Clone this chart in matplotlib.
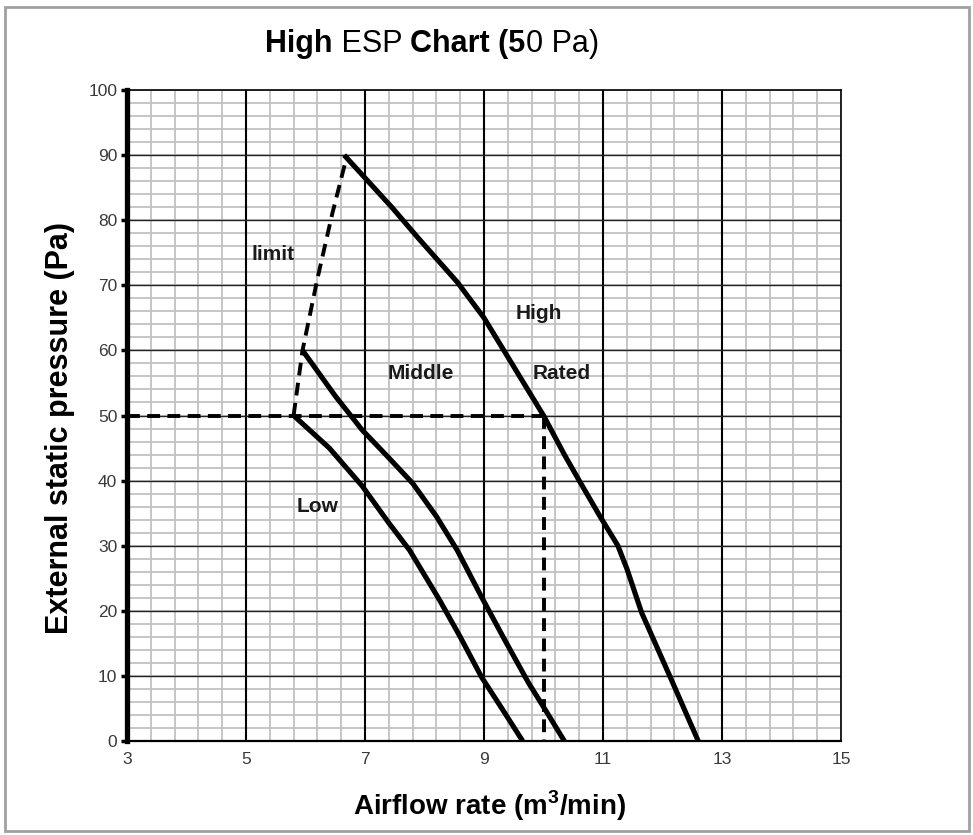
import matplotlib
matplotlib.use("Agg")
import numpy as np
import matplotlib.pyplot as plt
from matplotlib.patches import Rectangle

plt.rcParams['font.family'] = ['Liberation Sans', 'DejaVu Sans']
plt.rcParams['mathtext.fontset'] = 'custom'
plt.rcParams['mathtext.rm'] = 'Liberation Sans'
plt.rcParams['mathtext.bf'] = 'Liberation Sans:bold'

# ---- data ----
high_x = [6.65, 6.95, 7.45, 7.9, 8.55, 9.0, 9.5, 10.0, 10.35, 10.6, 10.95, 11.25, 11.4, 11.65, 12.15, 12.6]
high_y = [90, 87, 82, 77.2, 70.5, 65, 57.5, 50, 44, 40, 34.5, 30, 26.5, 19.7, 9.4, 0]

mid_x = [5.95, 6.5, 6.95, 7.4, 7.8, 8.2, 8.55, 8.96, 9.35, 9.75, 10.05, 10.35]
mid_y = [60, 53, 47.8, 43.5, 39.6, 34.5, 29.3, 22.1, 15.5, 8.9, 4.5, 0]

low_x = [5.8, 6.4, 6.95, 7.4, 7.75, 8.25, 8.6, 8.96, 9.3, 9.65]
low_y = [50, 45, 39.2, 33.5, 29.3, 21.7, 16, 9.8, 5, 0]

limit_x = [5.8, 5.95, 6.2, 6.45, 6.7]
limit_y = [50, 60, 71, 81, 90]

rated_x = 10.0
rated_y = 50

x_ticks = [3, 5, 7, 9, 11, 13, 15]
y_ticks = [0, 10, 20, 30, 40, 50, 60, 70, 80, 90, 100]

labels = ["limit", "High", "Middle", "Rated", "Low"]
label_x = [5.46, 9.92, 7.94, 10.3, 6.2]
label_y = [74.7, 65.7, 56.5, 56.5, 36]

# ---- figure ----
W, H = 973, 835
fig = plt.figure(figsize=(W / 100, H / 100), dpi=100)
fig.patch.set_facecolor('white')

# outer border
fig.patches.append(Rectangle((5 / W, 4 / H), 964 / W, 824 / H, transform=fig.transFigure,
                             fill=False, edgecolor='#a0a0a0', lw=2.0, zorder=0))

ax = fig.add_axes([127 / W, 1 - 741 / H, (841 - 127) / W, (741 - 90) / H])
ax.set_xlim(3, 15)
ax.set_ylim(0, 100)
ax.set_xticks(x_ticks)
ax.set_yticks(y_ticks)

# grid: minor light grey, major dark, majors above minors
for xv in np.arange(3, 15.001, 0.4):
    ax.axvline(xv, color='#c2c2c2', lw=1.3, zorder=0.5)
for yv in np.arange(0, 100.001, 2):
    ax.axhline(yv, color='#c2c2c2', lw=1.3, zorder=0.5)
for xv in x_ticks[1:-1]:
    ax.axvline(xv, color='black', lw=1.5, zorder=0.8)
for yv in y_ticks[1:-1]:
    ax.axhline(yv, color='#222222', lw=1.0, zorder=0.8)

for s in ['top', 'right']:
    ax.spines[s].set_linewidth(1.2)
ax.spines['bottom'].set_linewidth(1.6)
ax.spines['left'].set_linewidth(3.8)
for s in ax.spines.values():
    s.set_zorder(2)

ax.tick_params(axis='x', which='both', length=0, pad=8, labelsize=12.5, labelcolor='#3a3a3a')
ax.tick_params(axis='y', which='major', length=4, width=2.5, pad=3, labelsize=12.5, labelcolor='#3a3a3a')

lw = 3.7
ax.plot(high_x, high_y, color='black', lw=lw, solid_capstyle='butt', zorder=4)
ax.plot(mid_x, mid_y, color='black', lw=lw, solid_capstyle='butt', zorder=4)
ax.plot(low_x, low_y, color='black', lw=lw, solid_capstyle='butt', zorder=4)

dash = (0, (3.3, 1.9))
ax.plot(limit_x, limit_y, color='black', lw=2.8, linestyle=dash, zorder=3)
ax.plot([3, rated_x], [rated_y, rated_y], color='black', lw=2.8, linestyle=dash, zorder=3)
ax.plot([rated_x, rated_x], [rated_y, 0], color='black', lw=2.8, linestyle=dash, zorder=3)

for t, x, y in zip(labels, label_x, label_y):
    ax.text(x, y, t, ha='center', va='center', fontsize=15, fontweight='bold', color='#1a1a1a', zorder=5)

fig.text(60 / W, 1 - 428 / H, 'External static pressure (Pa)', rotation=90, ha='center', va='center',
         fontsize=22, fontweight='bold')
fig.text(490 / W, 1 - 806 / H, r'Airflow rate (m$^{\mathbf{3}}$/min)', ha='center', va='center',
         fontsize=20, fontweight='bold')

# mixed-weight title
pieces = [("High", 'bold'), (" ESP ", 'normal'), ("Chart (5", 'bold'), ("0 Pa)", 'normal')]
fig.canvas.draw()
renderer = fig.canvas.get_renderer()
txts = []
widths = []
for s, w in pieces:
    t = fig.text(0, 1 - 44 / H, s, fontsize=22, fontweight=w, ha='left', va='center')
    bb = t.get_window_extent(renderer)
    txts.append(t)
    widths.append(bb.width)
total = sum(widths)
x0 = 432 - total / 2
for t, wdt in zip(txts, widths):
    t.set_x(x0 / W)
    x0 += wdt

fig.savefig('out.png', dpi=100, facecolor='white')
